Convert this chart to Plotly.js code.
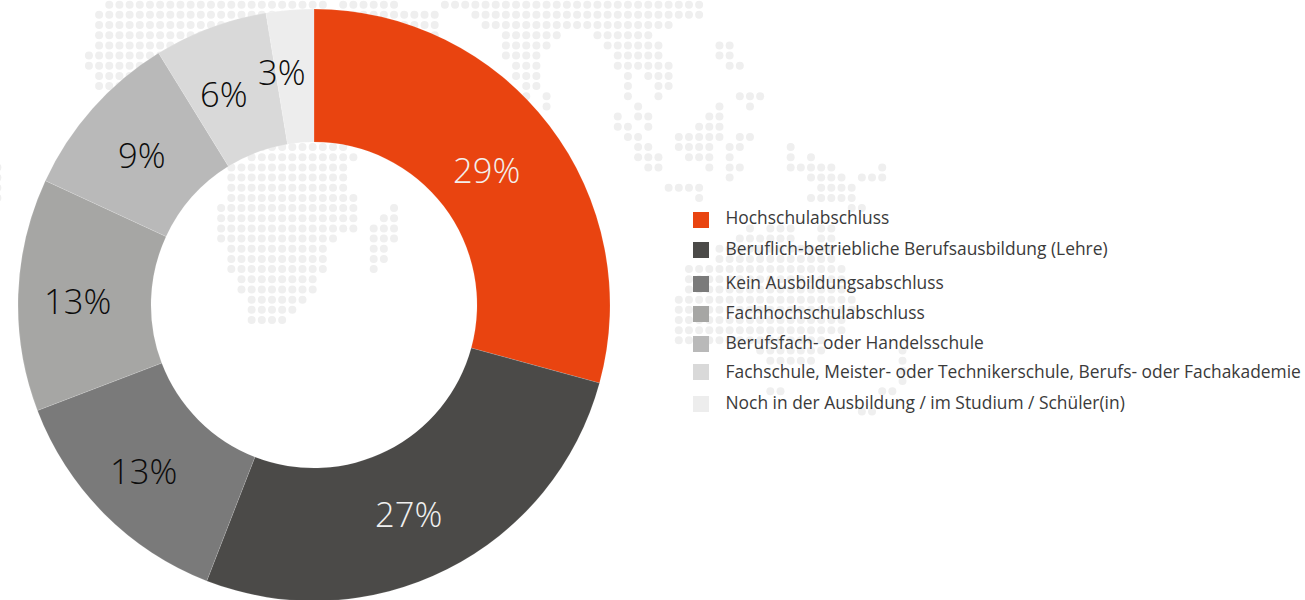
<!DOCTYPE html>
<html lang="de">
<head>
<meta charset="utf-8">
<script src="https://cdn.plot.ly/plotly-3.0.1.min.js"></script>
<style>html,body{margin:0;padding:0;width:1305px;height:600px;overflow:hidden;background:#fff}</style>
</head>
<body>
<div id="chart" style="width:1305px;height:610px"></div>
<script>
const categories = [
  "Hochschulabschluss",
  "Beruflich-betriebliche Berufsausbildung (Lehre)",
  "Kein Ausbildungsabschluss",
  "Fachhochschulabschluss",
  "Berufsfach- oder Handelsschule",
  "Fachschule, Meister- oder Technikerschule, Berufs- oder Fachakademie",
  "Noch in der Ausbildung / im Studium / Schüler(in)"
];
const shares = [29.25, 26.65, 13.3, 12.7, 9.3, 6.2, 2.6];
const shareLabels = ["29%", "27%", "13%", "13%", "9%", "6%", "3%"];
const sliceColors = ["#e94410", "#4b4a48", "#7a7a7a", "#a6a6a4", "#b9b9b9", "#d9d9d9", "#ededed"];
const labelColors = ["#f3efec", "#f0f0f0", "#0c0c0c", "#0c0c0c", "#0c0c0c", "#0c0c0c", "#0c0c0c"];
const labelX = [486, 408, 143, 77, 142, 224, 282];
const labelY = [169, 513, 470, 300, 155, 94, 72];
const keyY = [220, 250, 284, 314, 344, 372, 404];
const keyTextY = [219.5, 250.5, 284.5, 314.5, 344.5, 373.5, 404.5];

// decorative dotted map: [row, first column, last column]
const mapRuns = [
  [0,11,32],[0,34,39],[0,44,69],
  [1,10,43],[1,47,69],
  [2,10,43],[2,48,66],
  [3,10,43],[3,50,55],[3,59,64],
  [4,10,24],[4,50,54],[4,60,65],[4,71,72],
  [5,9,24],[5,50,53],[5,61,65],[5,71,72],
  [6,9,24],[6,51,53],[6,61,66],[6,72,73],
  [7,10,24],[7,51,53],[7,62,62],[7,64,66],
  [8,10,24],[8,52,53],[8,62,62],[8,65,66],
  [9,52,52],[9,54,54],[9,62,62],[9,65,65],[9,73,75],
  [10,54,54],[10,63,63],[10,71,71],[10,74,74],
  [11,61,61],[11,63,64],[11,70,71],
  [12,61,62],[12,64,64],[12,69,71],
  [13,62,63],[13,67,71],[13,73,74],
  [14,26,34],[14,63,64],[14,67,70],[14,72,73],[14,78,78],
  [15,25,35],[15,63,65],[15,68,70],[15,72,72],[15,78,78],[15,80,80],
  [16,0,0],[16,23,34],[16,64,65],[16,70,70],[16,72,73],[16,78,82],[16,87,87],
  [17,0,0],[17,23,34],[17,72,72],[17,80,83],[17,85,87],
  [18,0,0],[18,23,34],[18,66,69],[18,81,84],
  [19,0,0],[19,23,35],[19,69,69],[19,80,84],
  [20,22,35],[20,39,39],[20,84,85],
  [21,22,35],[21,38,39],
  [22,22,35],[22,37,39],[22,74,74],[22,76,78],[22,81,82],
  [23,22,33],[23,37,39],[23,73,78],[23,81,82],
  [24,23,32],[24,37,38],[24,71,82],
  [25,23,32],[25,37,38],[25,71,82],
  [26,23,32],[26,37,37],[26,68,83],
  [27,24,31],[27,68,83],
  [28,24,31],[28,68,84],
  [29,25,30],[29,67,84],
  [30,25,29],[30,67,84],
  [31,25,28],[31,67,83],
  [32,67,83],
  [33,67,81],
  [34,75,81],[34,89,89],
  [35,76,80],[35,89,89],
  [36,89,89],
  [37,89,89],
  [38,76,77],[38,87,88],
  [40,85,86]
];

const mapCol = [], mapRow = [];
mapRuns.forEach(([r, a, b]) => { for (let c = a; c <= b; c++) { mapCol.push(c); mapRow.push(r); } });

const FONT = '"Open Sans", sans-serif';

const traces = [
  { type: "scatter", mode: "markers", x: mapCol, y: mapRow, xaxis: "x", yaxis: "y",
    marker: { size: 8, color: "#efefef", line: { width: 0 } }, hoverinfo: "skip", showlegend: false },
  { type: "scatter", mode: "markers", x: categories.map(() => 701), y: keyY, xaxis: "x2", yaxis: "y2",
    marker: { symbol: "square", size: 16, color: sliceColors, line: { width: 0 } },
    hoverinfo: "skip", showlegend: false },
  { type: "scatter", mode: "text", x: categories.map(() => 725.5), y: keyTextY, xaxis: "x2", yaxis: "y2",
    text: categories, textposition: "middle right",
    textfont: { family: FONT, size: 17.4, color: "#3a3a3a" },
    hoverinfo: "skip", showlegend: false },
  { type: "pie", labels: categories, values: shares, sort: false, direction: "clockwise", rotation: 0,
    hole: 163 / 296, textinfo: "none",
    domain: { x: [18 / 1305, 610 / 1305], y: [1 - 601 / 610, 1 - 9 / 610] },
    marker: { colors: sliceColors, line: { color: "rgba(255,255,255,0.25)", width: 0.5 } },
    showlegend: false, hovertemplate: "%{label}: %{percent}<extra></extra>" }
];

const hidden = { visible: false, fixedrange: true };
const layout = {
  width: 1305, height: 610,
  margin: { l: 0, r: 0, t: 0, b: 0, pad: 0 },
  paper_bgcolor: "#fff", plot_bgcolor: "rgba(0,0,0,0)",
  showlegend: false,
  xaxis: { ...hidden, range: [2.6 / 10.17, (1305 + 2.6) / 10.17] },
  yaxis: { ...hidden, range: [(610 - 4.7) / 10.17, -4.7 / 10.17] },
  xaxis2: { ...hidden, range: [0, 1305], overlaying: "x" },
  yaxis2: { ...hidden, range: [610, 0], overlaying: "y" },
  annotations: shareLabels.map((t, i) => ({
    text: t, xref: "paper", yref: "paper",
    x: labelX[i] / 1305, y: 1 - labelY[i] / 610,
    xanchor: "center", yanchor: "middle", showarrow: false,
    font: { family: FONT, size: 34.5, color: labelColors[i], weight: 300 }
  }))
};

Plotly.newPlot("chart", traces, layout, { staticPlot: true, displayModeBar: false });
</script>
</body>
</html>
